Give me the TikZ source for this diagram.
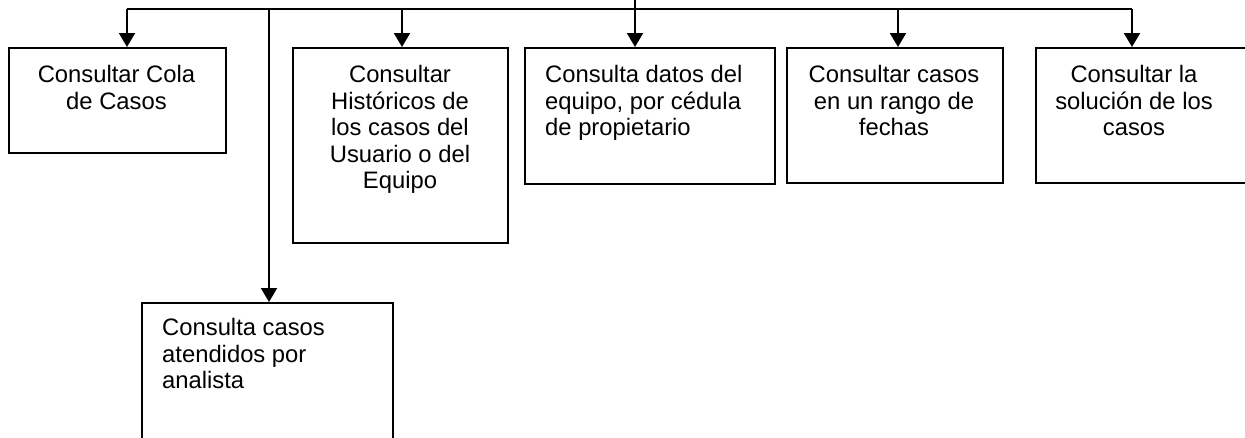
\documentclass[tikz,border=0pt]{standalone}
\usepackage{fontspec}
\setmainfont{Liberation Sans}
\usetikzlibrary{arrows.meta}
\begin{document}
\begin{tikzpicture}[x=1pt,y=-1pt,
  boxst/.style={draw, line width=1.6pt, rectangle, inner sep=0pt, anchor=north west},
  lbl/.style={inner sep=0pt, font=\fontsize{23.8}{26.6}\selectfont},
  conn/.style={line width=2pt},
  arr/.style={line width=2pt, -{Triangle[width=16pt,length=14pt]}}]
\useasboundingbox (0,0) rectangle (1245,437);
\clip (0,0) rectangle (1245,437);
% boxes
\node[boxst, minimum width=217pt, minimum height=105pt] (b1) at (8,47) {};
\node[boxst, minimum width=215pt, minimum height=195pt] (b2) at (292,47) {};
\node[boxst, minimum width=250pt, minimum height=136pt] (b3) at (524,47) {};
\node[boxst, minimum width=216pt, minimum height=135pt] (b4) at (786,47) {};
\node[boxst, minimum width=230pt, minimum height=135pt] (b5) at (1035,47) {};
\node[boxst, minimum width=251pt, minimum height=170pt] (b6) at (141,302) {};
% texts
\node[lbl, align=center, anchor=north] (t1) at (116.5,65) {Consultar Cola\\de Casos};
\node[lbl, align=center, anchor=north] (t2) at (400,65) {Consultar\\Históricos de\\los casos del\\Usuario o del\\Equipo};
\node[lbl, align=left, anchor=north west] (t3) at (545,65) {Consulta datos del\\equipo, por cédula\\de propietario};
\node[lbl, align=center, anchor=north] (t4) at (894,65) {Consultar casos\\en un rango de\\fechas};
\node[lbl, align=center, anchor=north] (t5) at (1134,65) {Consultar la\\solución de los\\casos};
\node[lbl, align=left, anchor=north west] (t6) at (162,318) {Consulta casos\\atendidos por\\analista};
% connectors
\coordinate (top) at (635,0);
\coordinate (j1) at (127,9);
\coordinate (j2) at (402,9);
\coordinate (j4) at (898,9);
\coordinate (j5) at (1132,9);
\coordinate (j6) at (269,9);
\draw[conn] (j1) -- (j5);
\draw[arr] (top) -- (top |- b3.north);
\draw[arr] (j1) -- (j1 |- b1.north);
\draw[arr] (j2) -- (j2 |- b2.north);
\draw[arr] (j4) -- (j4 |- b4.north);
\draw[arr] (j5) -- (j5 |- b5.north);
\draw[arr] (j6) -- (j6 |- b6.north);
\end{tikzpicture}
\end{document}
